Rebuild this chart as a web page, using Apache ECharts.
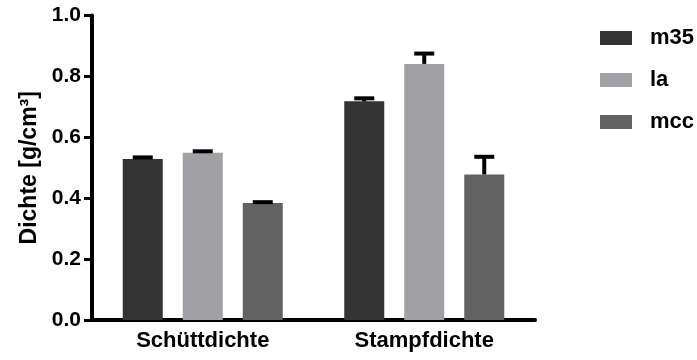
<!DOCTYPE html>
<html>
<head>
<meta charset="utf-8">
<script src="https://cdn.jsdelivr.net/npm/echarts@6/dist/echarts.min.js"></script>
<style>
  html, body { margin: 0; padding: 0; background: #fff; }
  #chart { width: 697px; height: 360px; }
</style>
</head>
<body>
<div id="chart"></div>
<script>
// Bulk and tapped density of three powders (mean + SD)
const categories = ['Schüttdichte', 'Stampfdichte'];
const seriesNames = ['m35', 'la', 'mcc'];
const m35Mean = [0.529, 0.718];
const laMean = [0.549, 0.841];
const mccMean = [0.384, 0.478];
const m35Sd = [0.005, 0.010];
const laSd = [0.005, 0.034];
const mccSd = [0.003, 0.058];
const yTicks = [0.0, 0.2, 0.4, 0.6, 0.8, 1.0];

const colors = ['#333333', '#a1a1a5', '#626262'];
const BAR_W = 40;
const BAR_GAP = 20;
const FONT = '"Liberation Sans", Arial, sans-serif';

const means = [m35Mean, laMean, mccMean];
const sds = [m35Sd, laSd, mccSd];

const chart = echarts.init(document.getElementById('chart'), null, { renderer: 'canvas' });

const barSeries = seriesNames.map((name, i) => ({
  name: name,
  type: 'bar',
  data: means[i],
  barWidth: BAR_W,
  barGap: (BAR_GAP / BAR_W * 100) + '%',
  itemStyle: { color: colors[i] },
  z: 2
}));

// Upper error bars drawn over each bar
const errorSeries = seriesNames.map((name, i) => ({
  name: name + '-sd',
  type: 'custom',
  z: 5,
  silent: true,
  data: means[i].map((m, c) => [c, m, m + sds[i][c]]),
  renderItem: function (params, api) {
    const offset = (i - (seriesNames.length - 1) / 2) * (BAR_W + BAR_GAP);
    const base = api.coord([api.value(0), api.value(1)]);
    const top = api.coord([api.value(0), api.value(2)]);
    const x = base[0] + offset;
    const style = { stroke: '#000', lineWidth: 4, fill: null };
    return {
      type: 'group',
      children: [
        { type: 'line', shape: { x1: x, y1: base[1], x2: x, y2: top[1] }, style: style },
        { type: 'line', shape: { x1: x - 10, y1: top[1], x2: x + 10, y2: top[1] }, style: style }
      ]
    };
  }
}));

chart.setOption({
  animation: false,
  backgroundColor: '#fff',
  grid: { left: 92, right: 162, top: 15.5, bottom: 40 },
  legend: {
    orient: 'vertical',
    left: 600,
    top: 27,
    padding: 0,
    data: seriesNames,
    itemWidth: 32,
    itemHeight: 14,
    itemGap: 20,
    icon: 'rect',
    textStyle: {
      fontFamily: FONT, fontWeight: 'bold', fontSize: 22, color: '#000',
      lineHeight: 22, padding: [0, 0, 0, 13]
    }
  },
  xAxis: {
    type: 'category',
    data: categories,
    axisLine: { lineStyle: { color: '#000', width: 4 } },
    axisTick: { show: false },
    axisLabel: {
      fontFamily: FONT, fontWeight: 'bold', fontSize: 22, color: '#000', margin: 10
    }
  },
  yAxis: {
    type: 'value',
    min: yTicks[0],
    max: yTicks[yTicks.length - 1],
    interval: yTicks[1] - yTicks[0],
    name: 'Dichte [g/cm³]',
    nameLocation: 'middle',
    nameRotate: 90,
    nameGap: 50,
    nameTextStyle: { fontFamily: FONT, fontWeight: 'bold', fontSize: 23, color: '#000' },
    splitLine: { show: false },
    axisLine: { show: true, lineStyle: { color: '#000', width: 4 } },
    axisTick: { show: true, length: 8, lineStyle: { color: '#000', width: 3 } },
    axisLabel: {
      fontFamily: FONT, fontWeight: 'bold', fontSize: 21, color: '#000', margin: 11,
      padding: [12, 0, 0, 0],
      formatter: v => v.toFixed(1)
    }
  },
  series: barSeries.concat(errorSeries)
});
</script>
</body>
</html>
